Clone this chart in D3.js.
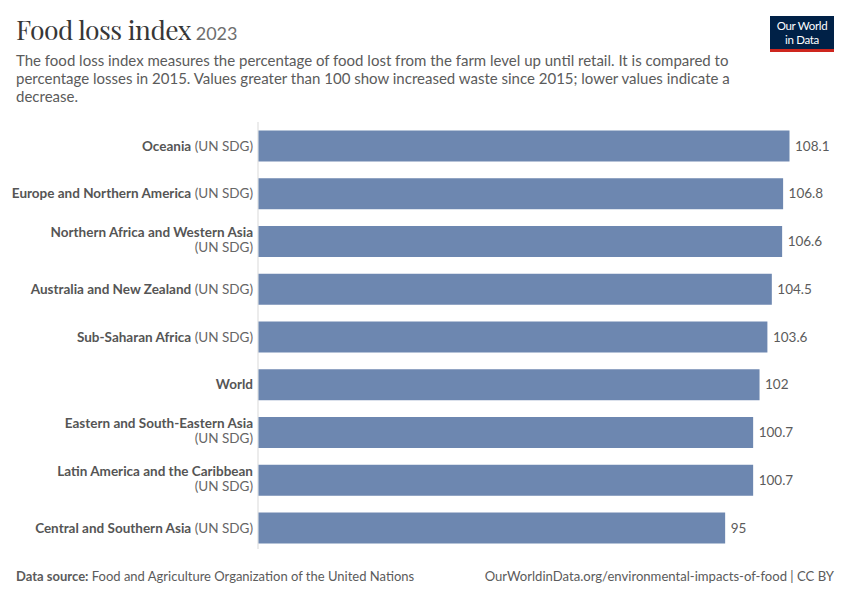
<!DOCTYPE html>
<html>
<head>
<meta charset="utf-8">
<script src="https://cdn.jsdelivr.net/npm/d3@7"></script>
<style>
  body { margin: 0; background: #fff; }
  svg { font-family: Lato, "Noto Sans", sans-serif; }
</style>
</head>
<body>
<svg id="chart" width="850" height="600"></svg>
<script>
// data
const regions = [
  'Oceania', 'Europe and Northern America', 'Northern Africa and Western Asia',
  'Australia and New Zealand', 'Sub-Saharan Africa', 'World',
  'Eastern and South-Eastern Asia', 'Latin America and the Caribbean', 'Central and Southern Asia'
];
const suffixes = ['(UN SDG)', '(UN SDG)', '(UN SDG)', '(UN SDG)', '(UN SDG)', '', '(UN SDG)', '(UN SDG)', '(UN SDG)'];
// labels that wrap the suffix onto a second line
const wrapped = ['Northern Africa and Western Asia', 'Eastern and South-Eastern Asia', 'Latin America and the Caribbean'];
const values = [108.1, 106.8, 106.6, 104.5, 103.6, 102, 100.7, 100.7, 95];

const data = regions.map((r, i) => ({ name: r, suffix: suffixes[i], value: values[i] }));

const svg = d3.select('#chart');
const margin = { top: 122, left: 258, right: 61, bottom: 51 };
const height = 600 - margin.top - margin.bottom;

// header
svg.append('text')
  .attr('x', 16).attr('y', 40)
  .style('font-family', '"Playfair Display", "DejaVu Serif", Georgia, serif')
  .style('font-size', '26.5px')
  .attr('fill', '#373737')
  .attr('letter-spacing', '-0.5px')
  .text('Food loss index')
  .append('tspan')
  .style('font-family', 'Lato, sans-serif')
  .style('font-size', '18px')
  .attr('fill', '#6e6e6e')
  .attr('letter-spacing', '0')
  .text(' 2023');

const sub = [
  'The food loss index measures the percentage of food lost from the farm level up until retail. It is compared to',
  'percentage losses in 2015. Values greater than 100 show increased waste since 2015; lower values indicate a',
  'decrease.'
];
svg.append('g').selectAll('text').data(sub).join('text')
  .attr('x', 16).attr('y', (d, i) => 66 + i * 18)
  .style('font-size', '15px')
  .attr('fill', '#5b5b5b')
  .text(d => d);

// logo
const logo = svg.append('g').attr('transform', 'translate(770,16)');
logo.append('rect').attr('width', 64).attr('height', 36).attr('fill', '#002147');
logo.append('rect').attr('y', 33).attr('width', 64).attr('height', 3).attr('fill', '#ce261e');
logo.append('text').attr('x', 32).attr('y', 14).attr('text-anchor', 'middle')
  .attr('fill', '#fff').style('font-size', '11.5px').attr('letter-spacing', '-0.3px').text('Our World');
logo.append('text').attr('x', 32).attr('y', 28).attr('text-anchor', 'middle')
  .attr('fill', '#fff').style('font-size', '11.5px').attr('letter-spacing', '-0.3px').text('in Data');

const chart = svg.append('g').attr('transform', `translate(${margin.left},${margin.top})`);

const xScale = d3.scaleLinear().domain([0, 108.1]).range([0, 531]);
const yScale = d3.scaleBand().domain(regions).range([0, 430]).paddingInner(0.351).paddingOuter(0.178);

// zero line
chart.append('line')
  .attr('x1', 0).attr('x2', 0).attr('y1', 0).attr('y2', height)
  .attr('stroke', '#d9d9d9').attr('stroke-width', 1);

chart.selectAll('.bar').data(data).join('rect')
  .attr('class', 'bar')
  .attr('x', 0.5)
  .attr('y', d => yScale(d.name))
  .attr('width', d => xScale(d.value))
  .attr('height', yScale.bandwidth())
  .attr('fill', '#6d87b0');

chart.selectAll('.val').data(data).join('text')
  .attr('class', 'val')
  .attr('x', d => xScale(d.value) + 6)
  .attr('y', d => yScale(d.name) + yScale.bandwidth() / 2)
  .attr('dy', '0.35em')
  .style('font-size', '13.5px')
  .attr('fill', '#5b5b5b')
  .text(d => d.value);

const labels = chart.selectAll('.lab').data(data).join('text')
  .attr('class', 'lab')
  .attr('text-anchor', 'end')
  .style('font-size', '13.5px')
  .attr('y', d => yScale(d.name) + yScale.bandwidth() / 2);

labels.each(function(d) {
  const t = d3.select(this);
  if (wrapped.includes(d.name)) {
    t.append('tspan').attr('x', -5).attr('dy', '-0.34em')
      .attr('font-weight', 700).attr('fill', '#555').text(d.name);
    t.append('tspan').attr('x', -5).attr('dy', '1.1em')
      .attr('fill', '#666').text(d.suffix);
  } else {
    t.attr('dy', '0.35em');
    t.append('tspan').attr('x', -5).attr('font-weight', 700).attr('fill', '#555').text(d.name);
    if (d.suffix) t.append('tspan').attr('fill', '#666').text(' ' + d.suffix);
  }
});

// footer
svg.append('text')
  .attr('x', 16).attr('y', 581)
  .style('font-size', '13px').attr('fill', '#5b5b5b')
  .call(t => {
    t.append('tspan').attr('font-weight', 700).text('Data source:');
    t.append('tspan').text(' Food and Agriculture Organization of the United Nations');
  });
svg.append('text')
  .attr('x', 834).attr('y', 581).attr('text-anchor', 'end')
  .style('font-size', '13.1px').attr('fill', '#5b5b5b')
  .text('OurWorldinData.org/environmental-impacts-of-food | CC BY');
</script>
</body>
</html>
